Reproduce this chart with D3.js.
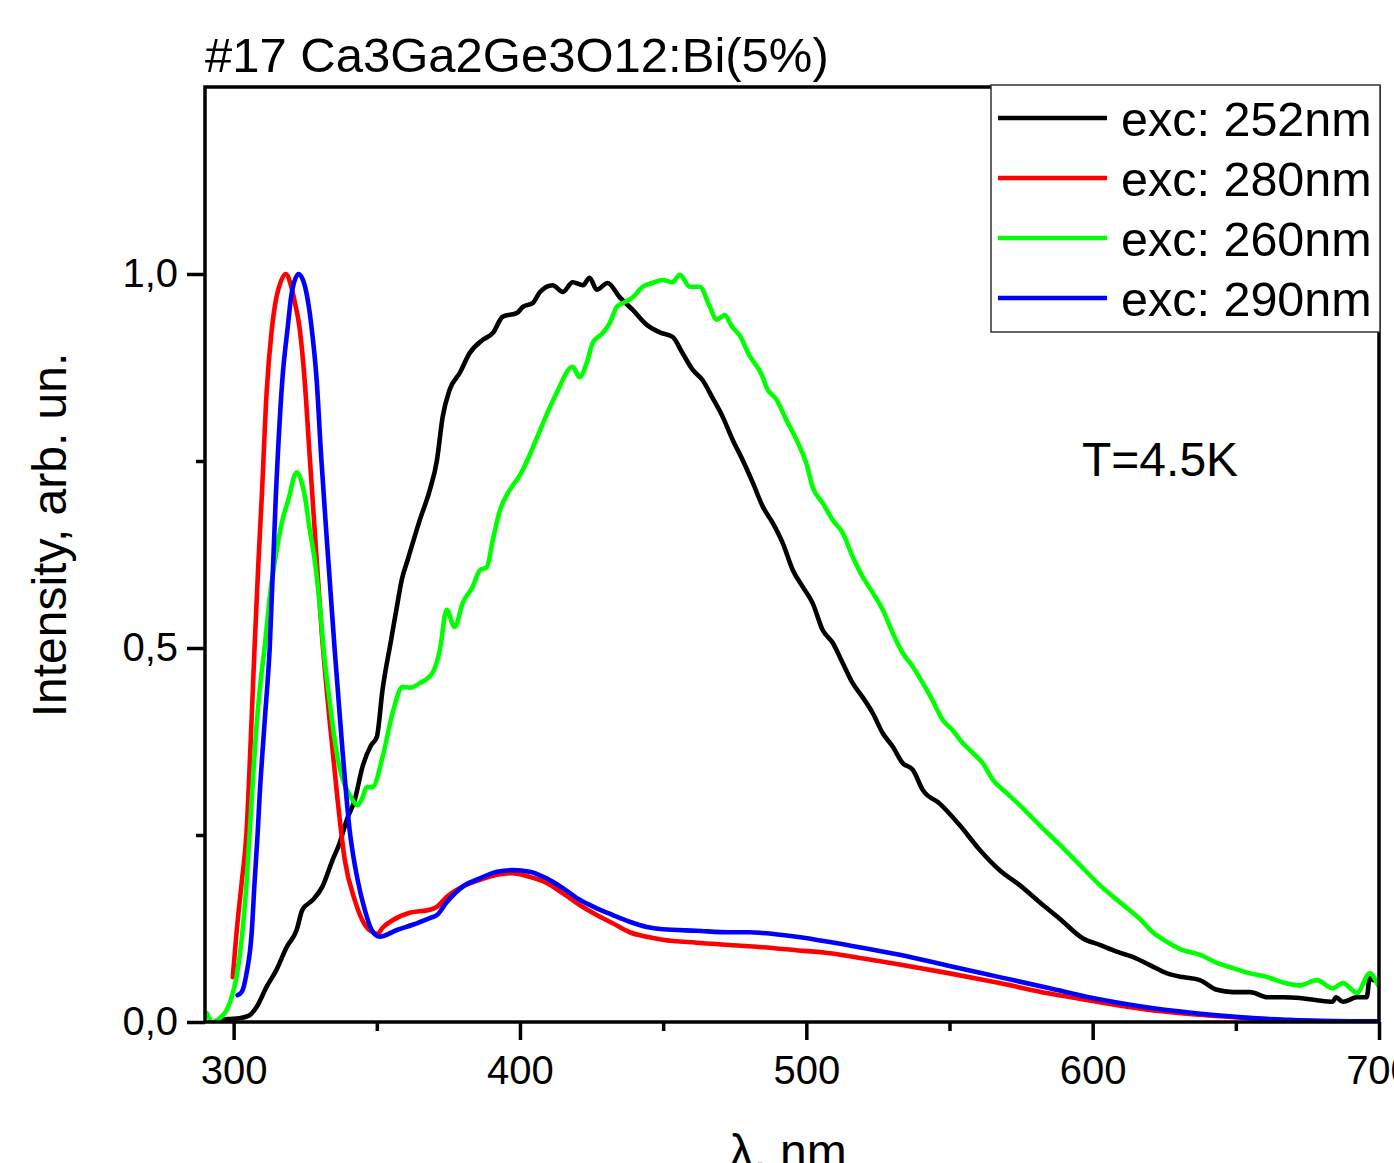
<!DOCTYPE html>
<html>
<head>
<meta charset="utf-8">
<script src="https://cdn.jsdelivr.net/npm/d3@7"></script>
<style>
  html, body { margin: 0; padding: 0; background: #fff; overflow: hidden; }
  svg { display: block; font-family: "Liberation Sans", Arial, sans-serif; }
</style>
</head>
<body>
<svg id="chart" width="1394" height="1163"></svg>
<script>
// ---------------- data ----------------
const seriesNames = ["exc: 252nm", "exc: 280nm", "exc: 260nm", "exc: 290nm"];
const seriesColors = ["#000000", "#ff0000", "#00ff00", "#0000ff"];

const exc252 = [
  [294,0.002],[298,0.004],[302,0.005],[305.6,0.009],[308,0.02],[311.5,0.047],[315,0.07],[318.5,0.10],
  [322,0.123],[324,0.15],[327.6,0.163],[331,0.181],[334.6,0.217],[337,0.239],[339.5,0.270],[342.3,0.297],
  [345,0.341],[348,0.37],[350,0.381],[352,0.444],[355,0.511],[357,0.555],[358.7,0.591],[360.8,0.618],
  [362.5,0.64],[365,0.671],[368.5,0.711],[371,0.751],[373,0.809],[375.4,0.845],[379,0.868],[382.4,0.894],
  [387,0.912],[390.5,0.921],[394,0.943],[399,0.948],[401,0.956],[404.4,0.961],[407,0.976],[411.4,0.985],
  [415,0.976],[418.4,0.989],[422,0.985],[424.3,0.995],[426.8,0.979],[430.6,0.988],[434.8,0.969],[439.4,0.952],
  [444.3,0.932],[448.8,0.922],[453.3,0.916],[456.8,0.894],[460.3,0.872],[463.8,0.858],[467.3,0.834],[470.8,0.809],
  [474.3,0.778],[477.8,0.751],[481.3,0.721],[484.8,0.689],[488.3,0.667],[491.8,0.640],[495.3,0.604],[498.7,0.582],
  [502.2,0.560],[505.7,0.524],[509.2,0.507],[512.7,0.480],[516.2,0.453],[519.7,0.434],[523.2,0.413],[526.7,0.386],
  [530.2,0.368],[533.7,0.346],[537.2,0.337],[540.7,0.310],[546.6,0.292],[553.6,0.263],[560.6,0.230],[567.5,0.203],
  [574.5,0.183],[581.5,0.160],[588.5,0.138],[596.5,0.112],[602.5,0.103],[608.4,0.094],[614,0.087],[620,0.076],
  [626,0.065],[631.5,0.060],[637.4,0.056],[643.4,0.043],[649,0.040],[655,0.040],[661,0.033],[666.4,0.033],
  [672.3,0.032],[678.3,0.029],[683.8,0.027],[685,0.033],[687.4,0.027],[692.3,0.033],[695.7,0.033],[696.8,0.060],
  [698,0.056]
];

const exc280 = [
  [299.7,0.060],[301,0.119],[302.8,0.186],[304.5,0.253],[305.9,0.37],[307.3,0.50],[308.6,0.61],[309.8,0.70],
  [311.5,0.84],[313.3,0.925],[315,0.97],[316.5,0.99],[318.2,1.0],[320,0.985],[321.5,0.96],[323,0.929],
  [324.8,0.858],[326.5,0.76],[328.3,0.658],[330.7,0.524],[333.5,0.404],[336.3,0.297],[338.8,0.217],[342.3,0.163],
  [345.8,0.130],[348.5,0.12],[350.3,0.118],[352,0.126],[355.5,0.136],[361.5,0.146],[368.5,0.150],[371,0.154],
  [374.4,0.167],[380,0.181],[386,0.190],[392,0.197],[397.4,0.199],[403.4,0.194],[409.3,0.186],[415,0.172],
  [421,0.156],[426.8,0.143],[432.4,0.132],[438.3,0.120],[444.3,0.114],[449.8,0.110],[461.7,0.106],[473.2,0.103],
  [484.8,0.100],[496.6,0.096],[508.2,0.092],[520,0.085],[532.6,0.077],[550,0.065],[567.5,0.052],[585,0.038],
  [600,0.028],[620,0.016],[643,0.008],[666,0.003],[690,0.0],[700,0.0]
];

const exc260 = [
  [290.6,0.012],[292.7,0.0],[295.1,0.005],[297.6,0.016],[299.3,0.033],[301,0.060],[302.8,0.110],[304.5,0.186],
  [305.6,0.253],[307.5,0.37],[309,0.44],[310.8,0.50],[313,0.58],[315,0.63],[317,0.67],[319.6,0.705],
  [321,0.728],[322,0.735],[323.5,0.725],[325,0.70],[326.5,0.66],[328.3,0.618],[330,0.56],[331.8,0.484],
  [333.5,0.43],[335.3,0.377],[337,0.34],[338.8,0.317],[341,0.30],[343.3,0.290],[345,0.30],[346.5,0.314],
  [348.5,0.314],[352,0.354],[355.5,0.413],[359,0.448],[361.5,0.447],[365,0.453],[369.5,0.467],[372,0.497],
  [374.4,0.551],[377.2,0.528],[380,0.560],[383.5,0.582],[386,0.604],[388.4,0.608],[390.5,0.644],[393,0.684],
  [396.4,0.711],[400,0.731],[403.4,0.758],[407,0.791],[410,0.818],[412.8,0.841],[418.4,0.876],[420.8,0.862],
  [423.3,0.881],[425.4,0.908],[428.9,0.921],[431.3,0.934],[433.8,0.956],[435.9,0.961],[439.4,0.969],[442.9,0.983],
  [446.3,0.988],[449.8,0.992],[453.3,0.989],[455.8,0.999],[459.3,0.983],[462.8,0.983],[466.3,0.956],[468.7,0.939],
  [471.5,0.945],[474,0.93],[476.7,0.918],[480,0.892],[484.8,0.862],[486,0.849],[489.6,0.832],[493,0.805],
  [496.6,0.778],[500,0.747],[502.2,0.715],[505.7,0.694],[509.2,0.671],[512.7,0.654],[516.2,0.622],[519.7,0.595],
  [523.2,0.574],[526.7,0.551],[530.2,0.520],[533.7,0.493],[537.2,0.475],[540.7,0.453],[544.1,0.430],[547.6,0.404],
  [551.1,0.390],[554.6,0.373],[558.1,0.360],[561.6,0.346],[565.1,0.324],[570,0.306],[574.5,0.290],[581.5,0.263],
  [588.5,0.237],[595.5,0.210],[602.5,0.183],[609.5,0.160],[616.4,0.138],[621,0.12],[626,0.107],[631.5,0.096],
  [637.4,0.090],[643.4,0.079],[649,0.072],[655,0.065],[661,0.060],[666.4,0.053],[672.3,0.049],[678.3,0.056],
  [683.8,0.045],[687.4,0.052],[692.3,0.039],[696.8,0.065],[699.7,0.049]
];

const exc290 = [
  [301.4,0.036],[302.8,0.040],[304.5,0.065],[306.3,0.119],[307.3,0.186],[308.4,0.253],[309,0.297],[310.8,0.40],
  [312.6,0.50],[314.7,0.70],[317,0.858],[318.9,0.929],[320.3,0.975],[322.7,1.0],[324.8,0.985],[327.2,0.929],
  [329,0.858],[330.5,0.76],[332.8,0.631],[335.3,0.497],[338,0.364],[340.5,0.257],[343.3,0.190],[345.8,0.150],
  [348.2,0.123],[351,0.114],[357,0.123],[362.5,0.130],[368.5,0.139],[371,0.143],[374.4,0.160],[380,0.181],
  [386,0.192],[392,0.201],[397.4,0.203],[403.4,0.201],[409.3,0.192],[415,0.179],[421,0.163],[426.8,0.152],
  [432.4,0.143],[438.3,0.134],[444.3,0.127],[449.8,0.124],[461.7,0.122],[473.2,0.120],[480.2,0.120],[484.8,0.119],
  [496.6,0.114],[508.2,0.107],[520,0.099],[532.6,0.090],[550,0.075],[567.5,0.060],[585,0.045],[600,0.032],
  [620,0.019],[643.4,0.009],[666.4,0.003],[690,0.001],[700,0.001]
];

const xMajorTicks = [300, 400, 500, 600, 700];
const xMinorTicks = [350, 450, 550, 650];
const yMajorTicks = [0, 0.5, 1.0];
const yMinorTicks = [0.25, 0.75];
const yTickLabels = ["0,0", "0,5", "1,0"];

const titleText = "#17 Ca3Ga2Ge3O12:Bi(5%)";
const xLabel = "λ, nm";
const yLabel = "Intensity, arb. un.";
const annotation = "T=4.5K";

// ---------------- chart ----------------
const svg = d3.select("#chart");
const L = 205, R = 1379, T = 87, B = 1022;
const x = d3.scaleLinear().domain([290, 700]).range([L, R]);
const y = d3.scaleLinear().domain([0, 1.25]).range([B, T]);

svg.append("rect").attr("width", 1394).attr("height", 1163).attr("fill", "#fff");

svg.append("defs").append("clipPath").attr("id", "plotclip")
  .append("rect").attr("x", L).attr("y", T).attr("width", R - L).attr("height", B - T);

const line = d3.line().x(d => x(d[0])).y(d => y(d[1])).curve(d3.curveMonotoneX);

const allSeries = [exc252, exc280, exc260, exc290];
const g = svg.append("g").attr("clip-path", "url(#plotclip)");
allSeries.forEach((s, i) => {
  g.append("path").datum(s)
    .attr("d", line)
    .attr("fill", "none")
    .attr("stroke", seriesColors[i])
    .attr("stroke-width", 4.6)
    .attr("stroke-linejoin", "round")
    .attr("stroke-linecap", "round");
});

// axes
const fontTick = 40;
const xAxis = svg.append("g").attr("transform", `translate(0,${B})`)
  .call(d3.axisBottom(x).tickValues(xMajorTicks).tickSize(18).tickSizeOuter(0).tickPadding(16).tickFormat(d3.format("d")));
const xMinor = svg.append("g").attr("transform", `translate(0,${B})`)
  .call(d3.axisBottom(x).tickValues(xMinorTicks).tickSize(9).tickSizeOuter(0).tickFormat(""));
const yAxis = svg.append("g").attr("transform", `translate(${L},0)`)
  .call(d3.axisLeft(y).tickValues(yMajorTicks).tickSize(18).tickSizeOuter(0).tickPadding(9)
    .tickFormat((d, i) => yTickLabels[i]));
const yMinor = svg.append("g").attr("transform", `translate(${L},0)`)
  .call(d3.axisLeft(y).tickValues(yMinorTicks).tickSize(9).tickSizeOuter(0).tickFormat(""));

[xAxis, xMinor, yAxis, yMinor].forEach(a => {
  a.select(".domain").remove();
  a.selectAll(".tick line").style("stroke", "#000").style("stroke-width", "3.5px");
  a.selectAll(".tick text").attr("fill", "#000")
    .style("font-family", '"Liberation Sans", Arial, sans-serif')
    .style("font-size", fontTick + "px");
});

// frame
svg.append("rect").attr("x", L).attr("y", T).attr("width", R - L).attr("height", B - T)
  .attr("fill", "none").attr("stroke", "#000").attr("stroke-width", 3.5);

// title
svg.append("text").attr("x", 205).attr("y", 72).attr("font-size", 49).attr("fill", "#000").text(titleText);

// axis labels
svg.append("text").attr("x", (L + R) / 2 - 4).attr("y", 1168).attr("text-anchor", "middle")
  .attr("font-size", 48).attr("fill", "#000").text(xLabel);
svg.append("text").attr("transform", "translate(66,535) rotate(-90)").attr("text-anchor", "middle")
  .attr("font-size", 48).attr("fill", "#000").text(yLabel);

// annotation
svg.append("text").attr("x", 1082).attr("y", 476).attr("font-size", 48).attr("fill", "#000").text(annotation);

// legend
const lg = svg.append("g");
lg.append("rect").attr("x", 991).attr("y", 85).attr("width", 389).attr("height", 247)
  .attr("fill", "#fff").attr("stroke", "#333").attr("stroke-width", 1.5);
seriesNames.forEach((n, i) => {
  const ly = 118 + i * 60;
  lg.append("line").attr("x1", 998).attr("x2", 1107).attr("y1", ly).attr("y2", ly)
    .attr("stroke", seriesColors[i]).attr("stroke-width", 4.6);
  lg.append("text").attr("x", 1121).attr("y", ly + 18).attr("font-size", 48.5).attr("fill", "#000").text(n);
});
</script>
</body>
</html>
